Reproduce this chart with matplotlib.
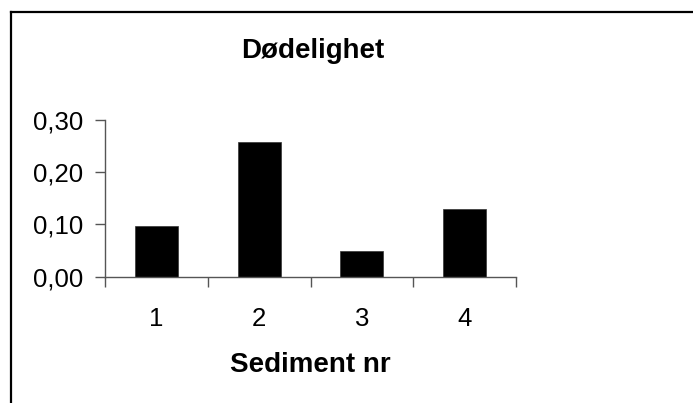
import matplotlib.pyplot as plt
from matplotlib.lines import Line2D
from matplotlib.ticker import FuncFormatter

plt.rcParams["font.family"] = ["Liberation Sans", "DejaVu Sans"]

# data
sediments = [1, 2, 3, 4]
sediment_labels = ["1", "2", "3", "4"]
dodelighet = [0.098, 0.257, 0.049, 0.129]
y_ticks = [0.0, 0.1, 0.2, 0.3]

W, H = 693, 403
fig = plt.figure(figsize=(W / 100, H / 100), dpi=100)

# axes box in pixel terms, converted to figure fractions
ax_left, ax_right = 105, 516
ax_top, ax_bottom = 120, 276.7
ax = fig.add_axes([ax_left / W, 1 - ax_bottom / H,
                   (ax_right - ax_left) / W, (ax_bottom - ax_top) / H])

ax.bar(sediments, dodelighet, width=0.42, color="black", edgecolor="#333333", linewidth=0.5)

ax.set_xlim(0.5, 4.5)
ax.set_ylim(0, 0.30)

# ticks sit between categories, labels under the bars
ax.set_xticks([0.5, 1.5, 2.5, 3.5, 4.5])
ax.set_xticklabels([])
ax.set_xticks(sediments, minor=True)
ax.set_xticklabels(sediment_labels, minor=True)
ax.tick_params(axis="x", which="minor", length=0, pad=22, labelsize=18.5)
ax.tick_params(axis="x", which="major", length=7, width=1, color="#555555", direction="out")

ax.set_yticks(y_ticks)
ax.yaxis.set_major_formatter(FuncFormatter(lambda v, p: f"{v:.2f}".replace(".", ",")))
ax.tick_params(axis="y", length=7, width=1, color="#555555", direction="out", pad=9, labelsize=18.5)

for s in ["top", "right"]:
    ax.spines[s].set_visible(False)
for s in ["left", "bottom"]:
    ax.spines[s].set_color("#555555")
    ax.spines[s].set_linewidth(1)

fig.text(313 / W, 1 - 51 / H, "Dødelighet", ha="center", va="center",
         fontsize=20, fontweight="bold")
fig.text(310 / W, 1 - 365 / H, "Sediment nr", ha="center", va="center",
         fontsize=20, fontweight="bold")

# chart area border (only top and left edges are inside the crop)
fig.add_artist(Line2D([11 / W, 1], [1 - 11.5 / H, 1 - 11.5 / H],
                      transform=fig.transFigure, color="black", lw=1.6))
fig.add_artist(Line2D([11 / W, 11 / W], [0, 1 - 11.5 / H],
                      transform=fig.transFigure, color="black", lw=1.6))

fig.savefig("out.png", dpi=100)
